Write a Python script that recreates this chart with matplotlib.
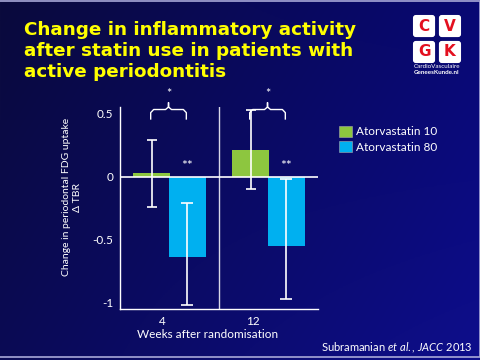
import matplotlib
matplotlib.use("Agg")
import matplotlib.pyplot as plt
import numpy as np
from matplotlib.patches import Patch, FancyBboxPatch

plt.rcParams['font.family'] = ['Lato', 'DejaVu Sans']
plt.rcParams['mathtext.fontset'] = 'custom'
plt.rcParams['mathtext.rm'] = 'Lato'
plt.rcParams['mathtext.it'] = 'Lato:italic'

# data
weeks = ["4", "12"]
series = ["Atorvastatin 10", "Atorvastatin 80"]
means_10 = [0.03, 0.21]
means_80 = [-0.64, -0.55]
err_lo_10 = [0.27, 0.31]
err_hi_10 = [0.26, 0.32]
err_lo_80 = [0.38, 0.42]
err_hi_80 = [0.43, 0.53]
colors = ["#8dc63f", "#00b0f0"]

fig = plt.figure(figsize=(4.8, 3.6), dpi=100)

# background gradient
bg = fig.add_axes([0, 0, 1, 1])
bg.set_axis_off()
tl, tr = np.array([10, 10, 60]), np.array([8, 8, 115])
bl, br = np.array([10, 10, 85]), np.array([14, 14, 140])
u = np.linspace(0, 1, 200)[None, :, None]
v = np.linspace(0, 1, 150)[:, None, None]
grad = (tl * (1 - u) * (1 - v) + tr * u * (1 - v) + bl * (1 - u) * v + br * u * v) / 255
bg.imshow(grad, extent=[0, 1, 0, 1], aspect='auto', origin='upper')
bg.set_xlim(0, 1); bg.set_ylim(0, 1)
bg.plot([0, 1, 1, 0], [0.997, 0.997, 0.007, 0.007], color="#a8a8d8", lw=1.2)

# title
fig.text(24 / 480, 1 - 21 / 360, "Change in inflammatory activity\nafter statin use in patients with\nactive periodontitis",
         color="#ffff00", fontsize=13.2, fontweight='bold', family='DejaVu Sans',
         ha='left', va='top', linespacing=1.2)

# chart
ax = fig.add_axes([120 / 480, 1 - 309 / 360, 198 / 480, 202 / 360])
ax.set_facecolor('none')
x = np.array([0.5, 1.5])
w = 0.37
ax.bar(x - 0.18, means_10, w, color=colors[0], label=series[0], zorder=2)
ax.bar(x + 0.18, means_80, w, color=colors[1], label=series[1], zorder=2)
ax.errorbar(x - 0.18, means_10, yerr=[err_lo_10, err_hi_10], fmt='none',
            ecolor='white', elinewidth=1.2, capsize=3.5, capthick=1.2, zorder=3)
ax.errorbar(x + 0.18, means_80, yerr=[err_lo_80, err_hi_80], fmt='none',
            ecolor='white', elinewidth=1.2, capsize=4.5, capthick=1.2, zorder=3)
ax.axhline(0, color='white', lw=1.2, zorder=4)
ax.axvline(1, color='#d8d8e8', lw=1.0, zorder=1)

ax.set_xlim(0, 2)
ax.set_ylim(-1.05, 0.555)
ax.set_yticks([0.5, 0, -0.5, -1])
ax.set_yticklabels(["0.5", "0", "-0.5", "-1"])
ax.set_xticks([0.43, 1.34])
ax.set_xticklabels(weeks)
ax.tick_params(colors='white', length=0, labelsize=8.5, pad=5)
for s in ['top', 'right']:
    ax.spines[s].set_visible(False)
for s in ['left', 'bottom']:
    ax.spines[s].set_color('white')
    ax.spines[s].set_linewidth(1.0)

# significance marks
for c in x:
    x0, x1 = c - 0.19, c + 0.17
    xc = (x0 + x1) / 2
    bx = [x0, x0, x0 + 0.03, xc - 0.03, xc, xc, xc, xc + 0.03, x1 - 0.03, x1, x1]
    by = [0.46, 0.51, 0.535, 0.535, 0.555, 0.59, 0.555, 0.535, 0.535, 0.51, 0.46]
    ax.plot(bx, by, color='white', lw=1.0, clip_on=False)
    ax.text(xc, 0.655, "*", color='white', fontsize=9, ha='center', va='center')
    ax.text(c + 0.18, 0.09, "**", color='white', fontsize=10, ha='center', va='center')

fig.text(208 / 480, 1 - 335 / 360, "Weeks after randomisation", color='white',
         fontsize=8.5, ha='center', va='center')
fig.text(72 / 480, 1 - 197 / 360, "Change in periodontal FDG uptake\n\u0394 TBR", color='white',
         fontsize=7.5, rotation=90, ha='center', va='center', multialignment='center')

handles = [Patch(facecolor=colors[0], edgecolor='#aaaaaa', lw=0.4),
           Patch(facecolor=colors[1], edgecolor='#aaaaaa', lw=0.4)]
fig.legend(handles, series, loc='upper left', bbox_to_anchor=(328 / 480, 1 - 115 / 360),
           frameon=False, fontsize=8.5, labelcolor='white', handlelength=1.1,
           handleheight=1.1, handletextpad=0.4, labelspacing=0.3)

fig.text(473 / 480, 1 - 348 / 360, r"Subramanian $\it{et\ al.}$, $\it{JACC\ 2013}$",
         color='white', fontsize=8, ha='right', va='center')

# logo
lg = fig.add_axes([412 / 480, 1 - 64 / 360, 50 / 480, 50 / 360])
lg.set_axis_off()
lg.set_xlim(0, 2.08); lg.set_ylim(0, 2.08)
for (i, j, letter) in [(0, 1, "C"), (1, 1, "V"), (0, 0, "G"), (1, 0, "K")]:
    lg.add_patch(FancyBboxPatch((i * 1.08 + 0.08, j * 1.08 + 0.08), 0.84, 0.84,
                                boxstyle="round,pad=0.04,rounding_size=0.12",
                                facecolor='white', edgecolor='none'))
    lg.text(i * 1.08 + 0.5, j * 1.08 + 0.5, letter, color='#e3101f', fontsize=11,
            fontweight='bold', family='DejaVu Sans', ha='center', va='center')
fig.text(437 / 480, 1 - 67 / 360, "CardioVasculaire", color='white', fontsize=4.5,
         ha='center', va='center')
fig.text(437 / 480, 1 - 73 / 360, "GeneesKunde.nl", color='white', fontsize=4.5,
         ha='center', va='center', fontweight='bold')

fig.savefig("out.png", dpi=100)
